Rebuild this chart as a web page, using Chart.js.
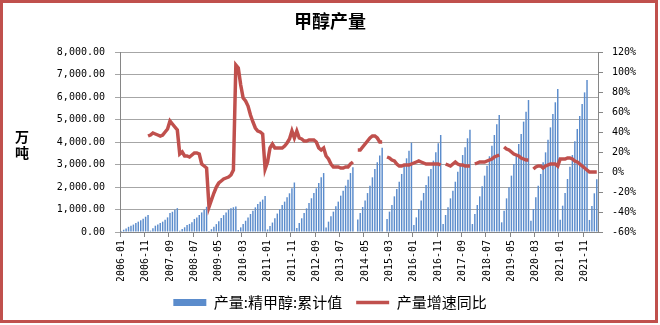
<!DOCTYPE html>
<html>
<head>
<meta charset="utf-8">
<script src="https://cdn.jsdelivr.net/npm/chart.js@4.4.1/dist/chart.umd.min.js"></script>
<style>
    body { margin: 0; background: #fff; }
    canvas { position: absolute; left: 0; top: 0; }
    #frame { position: absolute; left: 0; top: 0; width: 652px; height: 317px; border: 3px solid #c0504d; pointer-events: none; }
</style>
</head>
<body>
<canvas id="methanolChart" width="660" height="325"></canvas>
<div id="frame"></div>
<script>
// months from 2006-01 to 2022-04
const startYear = 2006;
const monthCount = 196;
const months = [];
for (let i = 0; i < monthCount; i++) {
    const y = startYear + Math.floor(i / 12);
    const m = (i % 12) + 1;
    months.push(y + "-" + (m < 10 ? "0" + m : m));
}

// 产量:精甲醇:累计值 (万吨), one row per year
const cumulativeOutput = [
    40, 100, 160, 230, 280, 330, 400, 460, 520, 590, 680, 760,            // 2006
    60, 165, 280, 330, 400, 460, 550, 650, 840, 900, 990, 1060,           // 2007
    60, 135, 210, 310, 360, 430, 580, 650, 755, 870, 990, 1120,           // 2008
    50, 125, 230, 350, 480, 620, 750, 870, 990, 1060, 1100, 1130,         // 2009
    90, 205, 355, 500, 650, 800, 950, 1095, 1245, 1350, 1440, 1600,       // 2010
    115, 270, 420, 610, 820, 1010, 1200, 1350, 1540, 1720, 1940, 2200,    // 2011
    180, 400, 610, 845, 1050, 1290, 1500, 1730, 1940, 2180, 2430, 2620,   // 2012
    205, 460, 695, 905, 1140, 1350, 1615, 1835, 2060, 2325, 2620, 2875,   // 2013
    null, 560, 840, 1110, 1400, 1730, 2060, 2430, 2800, 3100, 3400, 3750, // 2014
    null, 580, 905, 1200, 1585, 1910, 2235, 2580, 2950, 3275, 3615, 3970, // 2015
    310, 650, 1020, 1395, 1735, 2090, 2475, 2800, 3170, 3540, 3940, 4310, // 2016
    355, 755, 1095, 1495, 1835, 2235, 2680, 3050, 3420, 3765, 4165, 4550, // 2017
    355, 800, 1200, 1585, 2030, 2505, 2945, 3365, 3835, 4310, 4785, 5200, // 2018
    430, 950, 1495, 1985, 2505, 3020, 3390, 3910, 4355, 4905, 5350, 5865, // 2019
    505, 1020, 1540, 2060, 2580, 3095, 3540, 4105, 4650, 5245, 5765, 6355, // 2020
    545, 1170, 1735, 2355, 2905, 3420, 4030, 4580, 5155, 5690, 6205, 6755, // 2021
    535, 1155, 1720, 2340                                                  // 2022
];

// 产量增速同比 (%), one row per year
const growthYoY = [
    null, null, null, null, null, null, null, null, null, null, null, 36, // 2006
    37, 39, 38, 37, 36, 37, 40, 43, 51, 48, 45, 42,                       // 2007
    18, 20, 16, 16, 15, 17, 19, 19, 18, 8, 6, 4,                          // 2008
    -35, -28, -21, -15, -11, -9, -7, -6, -5, -3, 2, 107,                  // 2009
    104, 87, 74, 71, 66, 57, 50, 44, 41, 40, 38, 3,                       // 2010
    10, 24, 28, 24, 24, 24, 24, 26, 29, 33, 41, 34,                       // 2011
    41, 34, 33, 31, 31, 32, 32, 32, 30, 24, 22, 24,                       // 2012
    16, 13, 8, 5, 5, 5, 4, 4, 5, 5, 8, 10,                                // 2013
    null, 22, 22, 25, 28, 31, 34, 36, 36, 34, 30, 30,                     // 2014
    null, 15, 14, 12, 11, 8, 6, 6, 7, 7, 7, 8,                            // 2015
    9, 10, 11, 10, 9, 8, 8, 8, 8, 8, 8, 7,                                // 2016
    null, 8, 7, 6, 8, 10, 8, 7, 7, 6, 6, 6,                               // 2017
    null, 8, 9, 10, 10, 10, 11, 12, 13, 15, 16, 17,                       // 2018
    null, 25, 23, 22, 20, 18, 17, 16, 14, 13, 12, 12,                     // 2019
    null, 3, 5, 6, 6, 4, 6, 7, 8, 8, 8, 6,                                // 2020
    13, 13, 13, 14, 14, 13, 11, 10, 8, 6, 4, 2,                           // 2021
    0, 0, 0, 0                                                            // 2022
];

const leftTicks = { min: 0, max: 8000, step: 1000 };
const rightTicks = { min: -60, max: 120, step: 20 };

const tickFont = { family: "'DejaVu Sans Mono'", size: 10 };
const cjkFont = "'Noto Sans CJK SC'";
const axisGray = "#868686";

// 万吨 drawn stacked beside the left axis
const unitLabel = {
    id: "unitLabel",
    afterDraw(chart) {
        const ctx = chart.ctx;
        ctx.save();
        ctx.font = "bold 14px " + cjkFont;
        ctx.fillStyle = "#000";
        ctx.textAlign = "center";
        ctx.textBaseline = "middle";
        ctx.fillText("万", 22, 137);
        ctx.fillText("吨", 22, 153);
        ctx.restore();
    }
};

const ctx = document.getElementById("methanolChart").getContext("2d");
new Chart(ctx, {
    type: "bar",
    data: {
        labels: months,
        datasets: [
            {
                type: "bar",
                label: "产量:精甲醇:累计值",
                data: cumulativeOutput,
                backgroundColor: "#5b8ccc",
                borderWidth: 0,
                barPercentage: 0.6,
                categoryPercentage: 1,
                pointStyle: "rect",
                yAxisID: "y",
                order: 1
            },
            {
                type: "line",
                label: "产量增速同比",
                data: growthYoY,
                borderColor: "#c0504d",
                backgroundColor: "#c0504d",
                borderWidth: 3.5,
                pointRadius: 0,
                pointStyle: "line",
                tension: 0,
                spanGaps: false,
                yAxisID: "y1",
                order: 0
            }
        ]
    },
    options: {
        responsive: false,
        animation: false,
        devicePixelRatio: 1,
        layout: { padding: { top: 0, left: 0, right: 0, bottom: 5 } },
        plugins: {
            title: {
                display: true,
                text: "甲醇产量",
                color: "#000",
                font: { family: cjkFont, size: 18, weight: "bold" },
                padding: { top: 10, bottom: 20.4 }
            },
            legend: {
                position: "bottom",
                labels: {
                    usePointStyle: true,
                    pointStyleWidth: 33,
                    boxHeight: 7,
                    color: "#000",
                    font: { family: cjkFont, size: 15 },
                    padding: 14,
                    sort: (a, b) => a.datasetIndex - b.datasetIndex
                }
            },
            tooltip: { enabled: false }
        },
        scales: {
            x: {
                offset: true,
                grid: {
                    offset: true,
                    drawOnChartArea: false,
                    tickLength: 5,
                    color: c => (c.index % 10 === 0 ? axisGray : "rgba(0,0,0,0)")
                },
                border: { color: axisGray },
                ticks: {
                    autoSkip: false,
                    minRotation: 90,
                    maxRotation: 90,
                    padding: 3,
                    color: "#000",
                    font: tickFont,
                    callback: (v, i) => (i % 10 === 0 ? months[i] : "")
                },
                afterFit: scale => { scale.height = 49; }
            },
            y: {
                position: "left",
                min: leftTicks.min,
                max: leftTicks.max,
                grid: { color: "#a6a6a6", tickLength: 5 },
                border: { color: axisGray },
                ticks: {
                    stepSize: leftTicks.step,
                    padding: 10,
                    color: "#000",
                    font: tickFont,
                    callback: v => v.toLocaleString("en-US", { minimumFractionDigits: 2, maximumFractionDigits: 2 })
                },
                afterFit: scale => { scale.width = 120; }
            },
            y1: {
                position: "right",
                min: rightTicks.min,
                max: rightTicks.max,
                grid: { drawOnChartArea: false, tickLength: 5, color: axisGray },
                border: { color: axisGray },
                ticks: {
                    stepSize: rightTicks.step,
                    padding: 9,
                    color: "#000",
                    font: tickFont,
                    callback: v => v + "%"
                },
                afterFit: scale => { scale.width = 62; }
            }
        }
    },
    plugins: [unitLabel]
});
</script>
</body>
</html>
